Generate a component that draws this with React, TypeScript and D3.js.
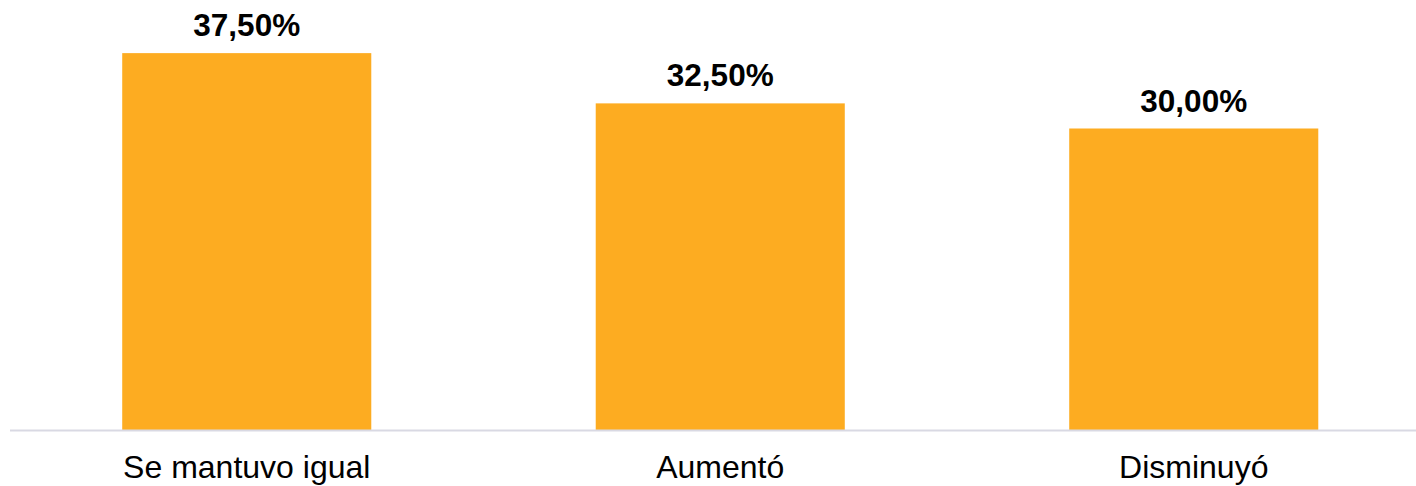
import React from "react";
import * as d3 from "d3";

const categories: string[] = ["Se mantuvo igual", "Aumentó", "Disminuyó"];
const values: number[] = [37.5, 32.5, 30.0];
const valueLabels: string[] = ["37,50%", "32,50%", "30,00%"];

const W = 1416;
const H = 486;

export default function App() {
  const x = d3
    .scaleBand<string>()
    .domain(categories)
    .range([10, 1430.5])
    .paddingInner(0.474)
    .paddingOuter(0.237);
  const y = d3.scaleLinear().domain([0, 40]).range([430, 28]);

  return (
    <svg
      width={W}
      height={H}
      style={{ position: "absolute", left: 0, top: 0, display: "block" }}
      fontFamily="'Liberation Sans', Arial, sans-serif"
    >
      <rect x={0} y={0} width={W} height={H} fill="#ffffff" />
      {categories.map((c, i) => (
        <g key={c}>
          <rect
            x={x(c)!}
            y={y(values[i])}
            width={x.bandwidth()}
            height={y(0) - y(values[i])}
            fill="#FDAC21"
          />
          <text
            x={x(c)! + x.bandwidth() / 2}
            y={y(values[i]) - 17}
            textAnchor="middle"
            fontSize={31.5}
            fontWeight="bold"
            fill="#000"
          >
            {valueLabels[i]}
          </text>
          <text
            x={x(c)! + x.bandwidth() / 2}
            y={478}
            textAnchor="middle"
            fontSize={32}
            fill="#000"
          >
            {c}
          </text>
        </g>
      ))}
      <line x1={10} x2={W} y1={430.5} y2={430.5} stroke="#D9D9E3" strokeWidth={2} />
    </svg>
  );
}
